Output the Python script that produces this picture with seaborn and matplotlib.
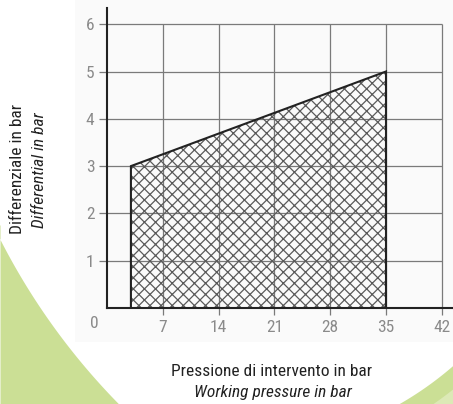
import numpy as np
import matplotlib
matplotlib.use("Agg")
import matplotlib.pyplot as plt
import seaborn as sns

# data
pressure = [3, 35]          # working pressure (bar), start / end of range
differential = [3, 5]       # differential (bar) along the top edge
x_ticks = [7, 14, 21, 28, 35, 42]
y_ticks = [1, 2, 3, 4, 5, 6]

sns.set_style("white")
plt.rcParams['font.family'] = ['Liberation Sans Narrow', 'DejaVu Sans Condensed',
                               'Roboto Condensed', 'Liberation Sans', 'DejaVu Sans']
plt.rcParams['hatch.linewidth'] = 0.9
plt.rcParams['hatch.color'] = '#5a5a5a'

W, H = 453, 404
fig = plt.figure(figsize=(W / 100, H / 100), dpi=100)

# decorative background (pixel space)
bg = fig.add_axes([0, 0, 1, 1], zorder=-1)
bg.set_xlim(0, W)
bg.set_ylim(H, 0)
bg.axis('off')
bg.fill_between([75, W], 0, 342, color='#fafafa', lw=0)
yl = np.linspace(225, H, 200)
xl = 594 - np.sqrt(np.clip(667 ** 2 - (yl + 64) ** 2, 0, None))
bg.fill_betweenx(yl, 0, xl, color='#cbdf95', lw=0)
yr = np.linspace(360, H, 100)
xr = 230.5 + np.sqrt(np.clip(339 ** 2 - (yr - 109.5) ** 2, 0, None))
bg.fill_betweenx(yr, xr, W, color='#cbdf95', lw=0)
xr2 = 230.5 + np.sqrt(np.clip(357 ** 2 - (yr - 109.5) ** 2, 0, None))
bg.fill_betweenx(yr, np.minimum(xr2, W), W, color='#dce9b6', lw=0)

# main chart
x0, y0 = 107, 308
ux, uy = 55.8 / 7, 47.3
ax = fig.add_axes([x0 / W, (H - y0) / H, (W - x0) / W, 300 / H])
ax.set_facecolor('none')
ax.set_xlim(0, (W - x0) / ux)
ax.set_ylim(0, 300 / uy)

ax.hlines(y_ticks, -1, 42, color='#7a7a7a', lw=0.9, clip_on=False, zorder=1)
ax.vlines(x_ticks, -0.15, 6, color='#7a7a7a', lw=0.9, clip_on=False, zorder=1)

ax.fill_between(pressure, 0, differential, facecolor='none', hatch='xxx',
                edgecolor='#5a5a5a', lw=0, zorder=2)
ax.plot([pressure[0], pressure[0], pressure[1], pressure[1]],
        [0, differential[0], differential[1], 0],
        color='#222222', lw=1.5, zorder=3, solid_joinstyle='miter')

for side in ['top', 'right']:
    ax.spines[side].set_visible(False)
for side in ['left', 'bottom']:
    ax.spines[side].set_color('#222222')
    ax.spines[side].set_linewidth(1.5)

ax.set_xticks(x_ticks)
ax.set_yticks(y_ticks)
ax.tick_params(length=0, labelsize=12.5, labelcolor='#8a8a8a', pad=9)

fig.text(94 / W, 1 - 323 / H, '0', fontsize=12.5, color='#8a8a8a',
         ha='center', va='center')

fig.text(18 / W, 1 - 169 / H, 'Differenziale in bar', rotation=90,
         fontsize=12.5, color='#222222', ha='center', va='center')
fig.text(40 / W, 1 - 170 / H, 'Differential in bar', rotation=90,
         fontsize=12.5, style='italic', color='#222222', ha='center', va='center')
fig.text(272 / W, 1 - 371 / H, 'Pressione di intervento in bar',
         fontsize=12.5, color='#222222', ha='center', va='center')
fig.text(273 / W, 1 - 392 / H, 'Working pressure in bar',
         fontsize=12.5, style='italic', color='#222222', ha='center', va='center')

fig.savefig('out.png', dpi=100)
